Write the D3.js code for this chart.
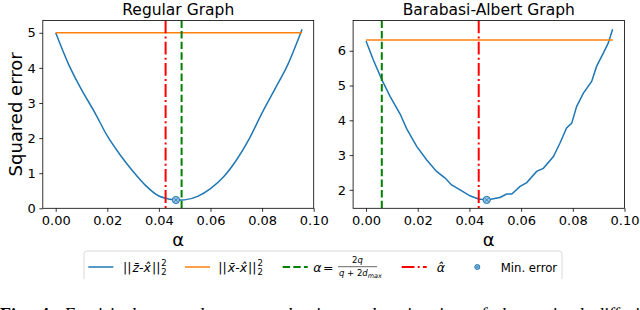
<!DOCTYPE html>
<html>
<head>
<meta charset="utf-8">
<script src="https://cdn.jsdelivr.net/npm/d3@7"></script>
<style>
  html, body { margin: 0; padding: 0; background: #fff; }
  svg { display: block; font-family: "DejaVu Sans", sans-serif; }
</style>
</head>
<body>
<div id="chart"></div>
<script>
// ---- data ----
const alphaReg = [0, 0.005, 0.01, 0.015, 0.02, 0.025, 0.03, 0.035, 0.04, 0.043, 0.045, 0.048,
  0.05, 0.055, 0.06, 0.065, 0.07, 0.075, 0.08, 0.085, 0.09, 0.0955];
const errReg = [5.00, 4.10, 3.38, 2.75, 2.06, 1.52, 1.05, 0.64, 0.35, 0.28, 0.25, 0.235,
  0.24, 0.34, 0.56, 0.89, 1.37, 1.98, 2.72, 3.40, 4.10, 5.10];

const alphaBA = [0, 0.0028, 0.0061, 0.0093, 0.0132, 0.0157, 0.0196, 0.0235, 0.0273, 0.0306,
  0.0331, 0.0364, 0.0402, 0.0435, 0.0467, 0.0518, 0.0544, 0.0564, 0.0596, 0.0622, 0.066,
  0.0686, 0.0725, 0.075, 0.0776, 0.0796, 0.0815, 0.0841, 0.0873, 0.0892, 0.0918, 0.0937, 0.0954];
const errBA = [6.28, 5.74, 5.17, 4.69, 4.18, 3.76, 3.25, 2.86, 2.53, 2.34,
  2.14, 2.00, 1.83, 1.74, 1.71, 1.78, 1.88, 1.88, 2.10, 2.21, 2.53,
  2.62, 2.96, 3.34, 3.78, 3.92, 4.40, 4.78, 5.12, 5.55, 5.93, 6.22, 6.62];

const baselineErr = [5.0, 6.31];          // ||x̄ - x̂||² per panel
const baselineSpan = [0, 0.0955];
const alphaFormula = [0.0488, 0.0061];    // 2q / (q + 2 d_max)
const alphaHat = [0.0426, 0.0436];
const minPoint = [[0.0466, 0.236], [0.0467, 1.71]];

const titles = ["Regular Graph", "Barabasi-Albert Graph"];
const xTicks = [0, 0.02, 0.04, 0.06, 0.08, 0.10];
const yTicks = [[0, 1, 2, 3, 4, 5], [2, 3, 4, 5, 6]];
const yDomains = [[0, 5.35], [1.47, 6.87]];

const BLUE = "#1f77b4", ORANGE = "#ff7f0e", GREEN = "#008000", RED = "#ff0000";

const W = 640, H = 310;
const svg = d3.select("#chart").append("svg")
  .attr("width", W).attr("height", H)
  .attr("viewBox", [0, 0, W, H]);

const panels = [
  { left: 42.8, right: 313.7, alpha: alphaReg, err: errReg },
  { left: 353.1, right: 624.5, alpha: alphaBA, err: errBA }
];
const plotTop = 20.5, plotBottom = 208.3;

panels.forEach((p, i) => {
  const x = d3.scaleLinear().domain([-0.005, 0.1]).range([p.left, p.right]);
  const y = d3.scaleLinear().domain(yDomains[i]).range([plotBottom, plotTop]);
  const g = svg.append("g");

  const clipId = "clip" + i;
  svg.append("clipPath").attr("id", clipId)
    .append("rect").attr("x", p.left).attr("y", plotTop)
    .attr("width", p.right - p.left).attr("height", plotBottom - plotTop);

  const plot = g.append("g").attr("clip-path", `url(#${clipId})`);

  // blue curve
  const line = d3.line().x((d, k) => x(p.alpha[k])).y(d => y(d))
    .curve(i === 0 ? d3.curveMonotoneX : d3.curveLinear);
  plot.append("path").datum(p.err)
    .attr("fill", "none").attr("stroke", BLUE).attr("stroke-width", 1.5)
    .attr("d", line);

  // orange baseline
  plot.append("line")
    .attr("x1", x(baselineSpan[0])).attr("x2", x(baselineSpan[1]))
    .attr("y1", y(baselineErr[i])).attr("y2", y(baselineErr[i]))
    .attr("stroke", ORANGE).attr("stroke-width", 1.5);

  // vertical lines
  plot.append("line")
    .attr("x1", x(alphaFormula[i])).attr("x2", x(alphaFormula[i]))
    .attr("y1", plotTop).attr("y2", plotBottom)
    .attr("stroke", GREEN).attr("stroke-width", 2)
    .attr("stroke-dasharray", "7.4,3.2");
  plot.append("line")
    .attr("x1", x(alphaHat[i])).attr("x2", x(alphaHat[i]))
    .attr("y1", plotTop).attr("y2", plotBottom)
    .attr("stroke", RED).attr("stroke-width", 2)
    .attr("stroke-dasharray", "12.8,3.2,2,3.2");

  // min marker
  drawMarker(plot, x(minPoint[i][0]), y(minPoint[i][1]), 3.6);

  // axes
  const xa = g.append("g").attr("transform", `translate(0,${plotBottom})`)
    .call(d3.axisBottom(x).tickValues(xTicks).tickFormat(d3.format(".2f"))
      .tickSize(3.5).tickPadding(3.5).tickSizeOuter(0));
  const ya = g.append("g").attr("transform", `translate(${p.left},0)`)
    .call(d3.axisLeft(y).tickValues(yTicks[i]).tickFormat(d3.format("d"))
      .tickSize(3.5).tickPadding(3.5).tickSizeOuter(0));
  [xa, ya].forEach(a => {
    a.select(".domain").remove();
    a.selectAll("text").attr("font-size", 13).attr("font-family", "DejaVu Sans").attr("fill", "#000");
    a.selectAll(".tick line").attr("stroke", "#000").attr("stroke-width", 0.8);
  });

  // frame
  g.append("rect").attr("x", p.left).attr("y", plotTop)
    .attr("width", p.right - p.left).attr("height", plotBottom - plotTop)
    .attr("fill", "none").attr("stroke", "#000").attr("stroke-width", 0.8);

  // title & x label
  g.append("text").attr("x", (p.left + p.right) / 2).attr("y", 15)
    .attr("text-anchor", "middle").attr("font-size", 15.5).text(titles[i]);
  g.append("text").attr("x", (p.left + p.right) / 2).attr("y", 246)
    .attr("text-anchor", "middle").attr("font-size", 18).text("α");
});

svg.append("text")
  .attr("transform", `translate(22,${(plotTop + plotBottom) / 2}) rotate(-90)`)
  .attr("text-anchor", "middle").attr("font-size", 18).text("Squared error");

function drawMarker(sel, cx, cy, r) {
  const m = sel.append("g");
  m.append("circle").attr("cx", cx).attr("cy", cy).attr("r", r)
    .attr("fill", "#9ec4e4").attr("stroke", BLUE).attr("stroke-width", 1);
  const d = r * 0.6;
  m.append("path")
    .attr("d", `M${cx - d},${cy - d}L${cx + d},${cy + d}M${cx - d},${cy + d}L${cx + d},${cy - d}`)
    .attr("stroke", BLUE).attr("stroke-width", 0.8);
}

// ---- legend ----
const lg = svg.append("g");
svg.append("clipPath").attr("id", "legclip")
  .append("rect").attr("x", 0).attr("y", 0).attr("width", W).attr("height", 279);
lg.append("rect").attr("x", 84).attr("y", 251).attr("width", 478).attr("height", 40)
  .attr("rx", 3).attr("fill", "#fff").attr("stroke", "#d0d0d0").attr("stroke-width", 0.8)
  .attr("clip-path", "url(#legclip)");

const ly = 267, lb = 271.5;
function legLine(x1, color, dash) {
  lg.append("line").attr("x1", x1).attr("x2", x1 + 25).attr("y1", ly).attr("y2", ly)
    .attr("stroke", color).attr("stroke-width", dash ? 2 : 1.5)
    .attr("stroke-dasharray", dash || null);
}
function rich(x0, parts) {
  let cx = x0;
  parts.forEach(pt => {
    const t = lg.append("text").attr("x", cx).attr("y", lb + (pt.dy || 0))
      .attr("font-size", pt.size || 12.5)
      .attr("font-style", pt.italic ? "italic" : "normal")
      .text(pt.t);
    const w = t.node().getComputedTextLength();
    if (!pt.stack) cx += w + (pt.gap || 0);
  });
  return cx;
}

legLine(88.3, BLUE);
rich(123, [{ t: "||" , gap: 1}, { t: "z\u0304", italic: true }, { t: "-" }, { t: "x\u0302", italic: true, gap: 1 },
  { t: "||", gap: 1 }, { t: "2", size: 8.5, dy: -5.5, stack: true }, { t: "2", size: 8.5, dy: 3 }]);

legLine(185, ORANGE);
rich(218.3, [{ t: "||", gap: 1 }, { t: "x\u0304", italic: true }, { t: "-" }, { t: "x\u0302", italic: true, gap: 1 },
  { t: "||", gap: 1 }, { t: "2", size: 8.5, dy: -5.5, stack: true }, { t: "2", size: 8.5, dy: 3 }]);

legLine(282.7, GREEN, "7.4,3.2");
rich(313.3, [{ t: "α", italic: true, gap: 1.5 }, { t: "=" }]);
lg.append("line").attr("x1", 338).attr("x2", 377).attr("y1", 266.7).attr("y2", 266.7)
  .attr("stroke", "#000").attr("stroke-width", 0.6);
lg.append("text").attr("x", 357.5).attr("y", 263.3).attr("text-anchor", "middle")
  .attr("font-size", 8.5).html('2<tspan font-style="italic">q</tspan>');
lg.append("text").attr("x", 339).attr("y", 276).attr("font-size", 8.5)
  .html('<tspan font-style="italic">q</tspan> + 2<tspan font-style="italic">d</tspan><tspan font-size="6.5" font-style="italic" dy="1.8">max</tspan>');

legLine(401.7, RED, "12.8,3.2,2,3.2");
rich(436.7, [{ t: "α\u0302", italic: true }]);

drawMarker(lg, 477.3, ly, 2.5);
rich(500.7, [{ t: "Min. error", size: 11.7 }]);

// ---- caption (only its top edge shows in the crop) ----
svg.append("text").attr("x", 0).attr("y", 320.5)
  .attr("font-family", "Liberation Serif").attr("font-size", 18)
  .attr("word-spacing", 6)
  .html('<tspan font-weight="bold">Fig. 4.</tspan> <tspan font-style="italic">Empirical squared error evaluation and estimation of the optimal diffusion parameter.</tspan>');
</script>
</body>
</html>
